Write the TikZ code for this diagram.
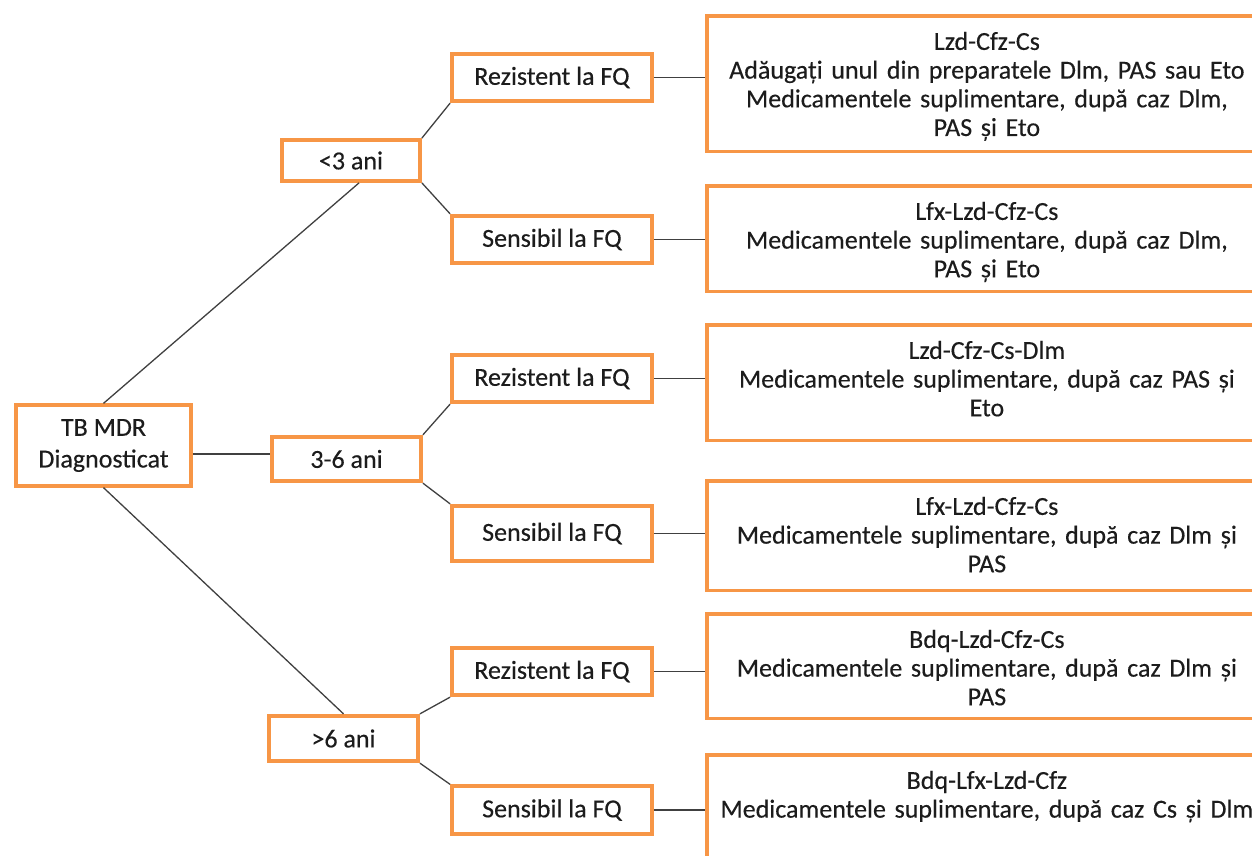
\documentclass[tikz,border=0pt]{standalone}
\usepackage{fontspec}
\setmainfont{Carlito}
\usetikzlibrary{positioning}
\definecolor{boxorange}{HTML}{F79646}
\definecolor{linegray}{HTML}{404040}
\definecolor{textdark}{HTML}{1C1C1C}
\def\treefont{\fontsize{26pt}{28.7pt}\selectfont\addfontfeature{FakeBold=0.3}}

\begin{document}
\begin{tikzpicture}[
            x=1pt, y=-1pt,
            treebox/.style={%
                draw=boxorange, line width=3.8pt, fill=white, text=textdark,%
                align=center, font=\treefont, inner sep=0pt%
            },
            rootbox/.style={treebox, minimum width=175.5pt, minimum height=80.5pt},
            agebox/.style={treebox, minimum width=149pt, minimum height=44.5pt},
            fqbox/.style={treebox, minimum width=200pt, minimum height=47.5pt},
            regbox/.style={%
                treebox, anchor=north west, text width=560pt,%
                text height=34pt, text depth=#1%
            },
            link/.style={line width=1.3pt, draw=linegray}
        ]

        \useasboundingbox (0,0) rectangle (1252,856);

        % Define nodes
        \node (root) [rootbox] at (103.5,445.5) {%
            TB MDR\\[3pt]Diagnosticat
        };

        \node (lt3) [agebox, minimum width=138pt, minimum height=41pt] at (351,160.5) {<3 ani};
        \node (mid36) [agebox] at (346.5,459) {3-6 ani};
        \node (gt6) [agebox, minimum height=45.5pt] at (343.5,738.5) {>6 ani};

        \node (rez1) [fqbox] at (552,77.5) {Rezistent la FQ};
        \node (sen1) [fqbox] at (552,239.5) {Sensibil la FQ};
        \node (rez2) [fqbox] at (552,378.5) {Rezistent la FQ};
        \node (sen2) [fqbox, minimum height=55.5pt] at (552,533.5) {Sensibil la FQ};
        \node (rez3) [fqbox] at (552,671.5) {Rezistent la FQ};
        \node (sen3) [fqbox] at (552,810) {Sensibil la FQ};

        \node (reg1) [regbox=101.5pt] at (705,14) {%
            Lzd-Cfz-Cs\\
            Adăugați unul din preparatele Dlm, PAS sau Eto\\
            Medicamentele suplimentare, după caz Dlm,\\
            PAS și Eto
        };
        \node (reg2) [regbox=71.5pt] at (705,184) {%
            Lfx-Lzd-Cfz-Cs\\
            Medicamentele suplimentare, după caz Dlm,\\
            PAS și Eto
        };
        \node (reg3) [regbox=81.5pt] at (705,323) {%
            Lzd-Cfz-Cs-Dlm\\
            Medicamentele suplimentare, după caz PAS și\\
            Eto
        };
        \node (reg4) [regbox=75.5pt] at (705,479) {%
            Lfx-Lzd-Cfz-Cs\\
            Medicamentele suplimentare, după caz Dlm și\\
            PAS
        };
        \node (reg5) [regbox=70.5pt] at (705,612) {%
            Bdq-Lzd-Cfz-Cs\\
            Medicamentele suplimentare, după caz Dlm și\\
            PAS
        };
        \node (reg6) [regbox=112pt] at (705,753) {%
            Bdq-Lfx-Lzd-Cfz\\
            Medicamentele suplimentare, după caz Cs și Dlm
        };

        % Connectors
        \draw [link] (root.north) -- ([xshift=8pt]lt3.south);
        \draw [link] ([yshift=-8.5pt]root.east) -- ([yshift=-8.5pt]root.east -| mid36.west);
        \draw [link] (root.south) -- (gt6.north);

        \draw [link] (lt3.north east) -- (rez1.south west);
        \draw [link] (lt3.south east) -- (sen1.north west);
        \draw [link] (mid36.north east) -- (rez2.south west);
        \draw [link] (mid36.south east) -- (sen2.north west);
        \draw [link] (gt6.north east) -- (rez3.south west);
        \draw [link] (gt6.south east) -- (sen3.north west);

        \draw [link] (rez1.east) -- (rez1.east -| reg1.west);
        \draw [link] (sen1.east) -- (sen1.east -| reg2.west);
        \draw [link] (rez2.east) -- (rez2.east -| reg3.west);
        \draw [link] (sen2.east) -- (sen2.east -| reg4.west);
        \draw [link] (rez3.east) -- (rez3.east -| reg5.west);
        \draw [link] (sen3.east) -- (sen3.east -| reg6.west);

\end{tikzpicture}
\end{document}
